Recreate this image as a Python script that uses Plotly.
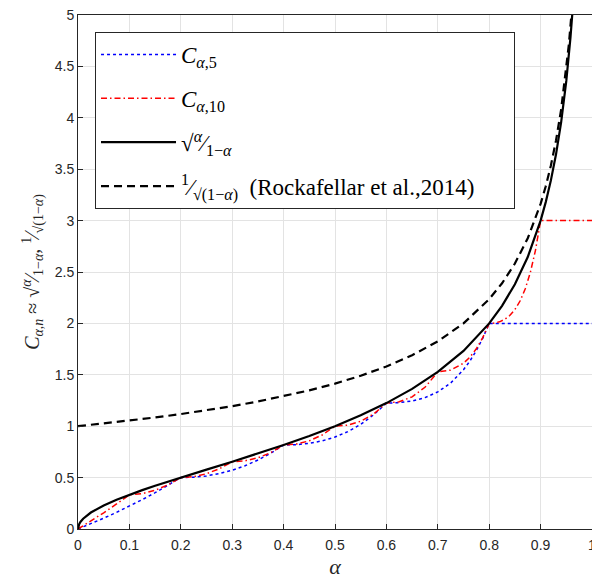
import plotly.graph_objects as go

# ---------------- data (values read / tabulated from the reference) ----------------
alpha_c5 = [0, 0.025, 0.05, 0.075, 0.1, 0.125, 0.15, 0.175, 0.2,
            0.225, 0.25, 0.275, 0.3, 0.325, 0.35, 0.375, 0.4,
            0.425, 0.45, 0.475, 0.5, 0.525, 0.55, 0.575, 0.6,
            0.625, 0.65, 0.675, 0.7, 0.725, 0.75, 0.7625, 0.775, 0.7875, 0.8,
            1.0]
c_alpha_5 = [0, 0.05128, 0.10526, 0.16216, 0.22222, 0.28571, 0.35294, 0.42424, 0.5,
             0.50389, 0.51640, 0.53864, 0.57143, 0.61531, 0.67061, 0.73757, 0.81650,
             0.82035, 0.83319, 0.85714, 0.89443, 0.94737, 1.01835, 1.10988, 1.22474,
             1.22927, 1.24540, 1.27794, 1.33333, 1.42005, 1.54919, 1.63412, 1.73561, 1.85644, 2.0,
             2.0]

alpha_c10 = [0, 0.025, 0.05, 0.075, 0.1,
             0.125, 0.15, 0.175, 0.2,
             0.225, 0.25, 0.275, 0.3,
             0.325, 0.35, 0.375, 0.4,
             0.425, 0.45, 0.475, 0.5,
             0.525, 0.55, 0.575, 0.6,
             0.625, 0.65, 0.675, 0.7,
             0.725, 0.75, 0.7625, 0.775, 0.7875, 0.8,
             0.81, 0.82, 0.83, 0.84, 0.85, 0.86, 0.87, 0.88, 0.89, 0.895, 0.9,
             1.0]
c_alpha_10 = [0, 0.07692, 0.15789, 0.24324, 0.33333,
              0.34404, 0.37665, 0.42962, 0.5,
              0.50902, 0.53748, 0.58620, 0.65465,
              0.66357, 0.69231, 0.74296, 0.81650,
              0.82609, 0.85763, 0.91473, 1.0,
              1.01102, 1.04822, 1.11765, 1.22474,
              1.23828, 1.28571, 1.37819, 1.52753,
              1.54544, 1.61245, 1.67183, 1.75330, 1.86109, 2.0,
              2.00346, 2.01537, 2.03855, 2.07665, 2.13437, 2.21774, 2.33446, 2.49443, 2.71055, 2.84481, 3.0,
              3.0]

alpha_sqrt = [0, 0.001, 0.0025, 0.005, 0.01, 0.025, 0.05, 0.075, 0.1, 0.125, 0.15, 0.175,
              0.2, 0.25, 0.3, 0.35, 0.4, 0.45, 0.5, 0.55, 0.6, 0.65, 0.7, 0.75,
              0.8, 0.825, 0.85, 0.875, 0.9, 0.91, 0.92, 0.93, 0.94, 0.95, 0.955, 0.958, 0.962]
sqrt_ratio = [0, 0.03164, 0.05006, 0.07089, 0.10050, 0.16013, 0.22942, 0.28475, 0.33333, 0.37796, 0.42008, 0.46057,
              0.5, 0.57735, 0.65465, 0.73380, 0.81650, 0.90453, 1.0, 1.10554, 1.22474, 1.36277, 1.52753, 1.73205,
              2.0, 2.17124, 2.38048, 2.64575, 3.0, 3.17980, 3.39116, 3.64496, 3.95811, 4.35890, 4.60676, 4.77593, 5.03148]

alpha_rock = [0, 0.05, 0.1, 0.15, 0.2, 0.25, 0.3, 0.35, 0.4, 0.45, 0.5, 0.55, 0.6, 0.65,
              0.7, 0.75, 0.8, 0.825, 0.85, 0.875, 0.9, 0.91, 0.92, 0.93, 0.94, 0.95, 0.955, 0.961]
rock_bound = [1, 1.02598, 1.05409, 1.08465, 1.11803, 1.15470, 1.19523, 1.24035, 1.29099, 1.34840, 1.41421,
              1.49071, 1.58114, 1.69031, 1.82574, 2.0, 2.23607, 2.39046, 2.58199, 2.82843, 3.16228,
              3.33333, 3.53553, 3.77964, 4.08248, 4.47214, 4.71405, 5.06370]

x_ticks = [0, 0.1, 0.2, 0.3, 0.4, 0.5, 0.6, 0.7, 0.8, 0.9, 1]
x_ticklabels = ["0", "0.1", "0.2", "0.3", "0.4", "0.5", "0.6", "0.7", "0.8", "0.9", "1"]
y_ticks = [0, 0.5, 1, 1.5, 2, 2.5, 3, 3.5, 4, 4.5, 5]
y_ticklabels = ["0", "0.5", "1", "1.5", "2", "2.5", "3", "3.5", "4", "4.5", "5"]

PAD = "\u2800\u2800"
names = [
    "<i>C</i><sub><i>α</i>,5</sub>",
    "<i>C</i><sub><i>α</i>,10</sub>",
    "√<sup><i>α</i></sup>⁄<sub>1−<i>α</i></sub>",
    "<sup>1</sup>⁄<sub>√(1−<i>α</i>)</sub>  (Rockafellar et al.,2014)" + PAD,
]

# ---------------- figure ----------------
fig = go.Figure()
fig.add_trace(go.Scatter(x=alpha_c5, y=c_alpha_5, mode="lines", name=names[0], legendgroup="a",
                         line=dict(color="#0000ff", width=1.5, dash="dot")))
fig.add_trace(go.Scatter(x=alpha_c10, y=c_alpha_10, mode="lines", name=names[1], legendgroup="b",
                         line=dict(color="#ff0000", width=1.5, dash="6px,3px,1.5px,3px")))
fig.add_trace(go.Scatter(x=alpha_sqrt, y=sqrt_ratio, mode="lines", name=names[2], legendgroup="c",
                         line=dict(color="#000000", width=2.2)))
fig.add_trace(go.Scatter(x=alpha_rock, y=rock_bound, mode="lines", name=names[3], legendgroup="d",
                         line=dict(color="#000000", width=2.2, dash="8px,5px")))

axis_common = dict(
    showgrid=True, gridcolor="#e3e3e3", gridwidth=1,
    showline=True, linecolor="#262626", linewidth=1,
    ticks="inside", ticklen=5, tickcolor="#262626",
    tickfont=dict(family="Liberation Sans", size=14, color="#262626"),
    zeroline=False, automargin=False, ticklabeloverflow="allow",
)

fig.update_xaxes(range=[0, 1], tickvals=x_ticks, ticktext=x_ticklabels, mirror=True,
                 ticklabelstandoff=3,
                 title=dict(text="<i>α</i>", font=dict(family="Liberation Serif", size=22, color="#262626"),
                            standoff=18),
                 **axis_common)
fig.update_yaxes(range=[0, 5], tickvals=y_ticks, ticktext=y_ticklabels,
                 title=dict(text="<i>C</i><sub><i>α</i>,<i>n</i></sub> ≈ √<sup><i>α</i></sup>⁄<sub>1−<i>α</i></sub>, "
                                 "<sup>1</sup>⁄<sub>√(1−<i>α</i>)</sub>",
                            font=dict(family="Liberation Serif", size=20, color="#262626"), standoff=9),
                 **axis_common)

fig.update_layout(
    width=592, height=579,
    margin=dict(l=78, r=0, t=15, b=50, autoexpand=False),
    plot_bgcolor="white", paper_bgcolor="white",
    legend=dict(x=0.0331, y=0.967, xanchor="left", yanchor="top",
                bgcolor="white", bordercolor="#262626", borderwidth=1,
                font=dict(family="Liberation Serif", size=23, color="black"),
                tracegroupgap=11, itemwidth=75),
)

fig.write_html("out.html",
               config={"displayModeBar": False},
               post_script="document.body.style.margin='0px';document.body.style.overflow='hidden';")
